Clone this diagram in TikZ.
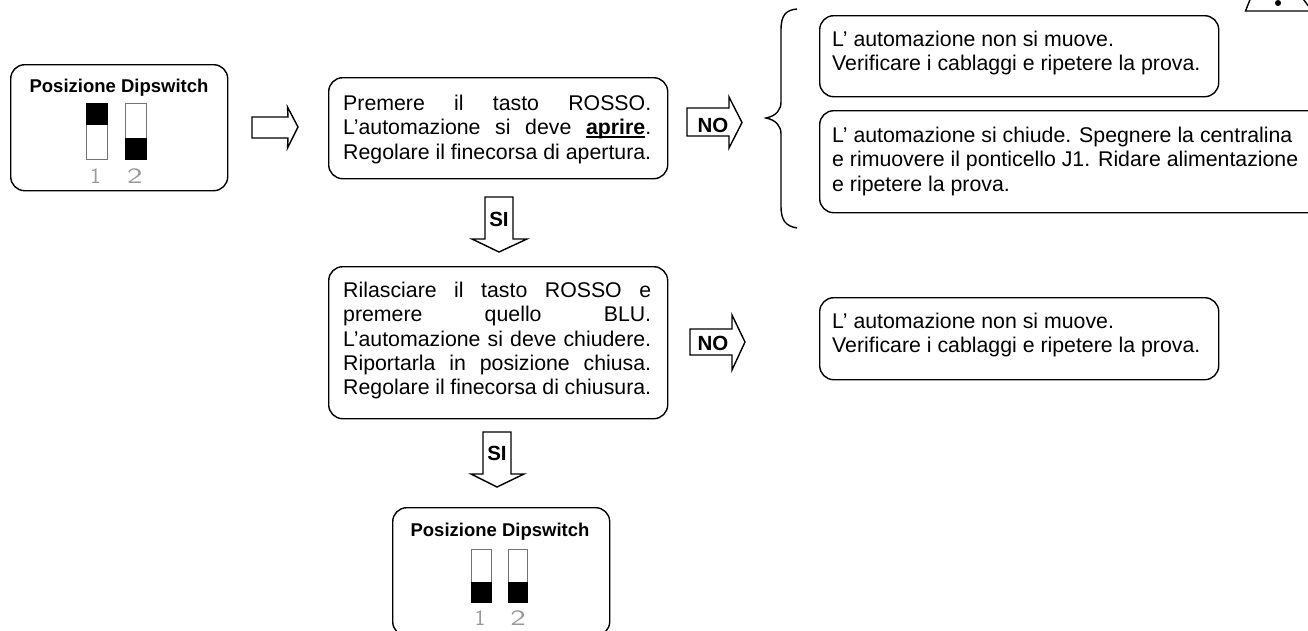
\documentclass[tikz,border=0pt]{standalone}
\usepackage{fontspec}
\setmainfont{Liberation Sans}
\setsansfont{Liberation Sans}
\newfontfamily\digitfont{Latin Modern Sans}
\newcommand{\jline}[1]{\hbox to 308pt{#1}}
\newcommand{\hf}{\hfill}
\newcommand{\lowul}[1]{\leavevmode\setbox0\hbox{#1}\rlap{\rule[-2.8pt]{\wd0}{1.4pt}}\box0}
\tikzset{
  x=1pt,y=-1pt,
  roundbox/.style={draw=black,line width=1.4pt,rounded corners=14pt,fill=white,inner sep=0pt,anchor=north west},
  msg/.style={anchor=north west,inner sep=0pt,align=left,font=\fontsize{21.3}{24.2}\selectfont},
  dipt/.style={inner sep=0pt,font=\bfseries\fontsize{18.5}{20}\selectfont},
  blk/.style={draw=black,line width=1.4pt,fill=white,line join=miter},
  arrlabel/.style={inner sep=0pt,font=\bfseries\fontsize{20.5}{22}\selectfont},
  swbody/.style={draw=black!55,line width=1pt,fill=white},
  swfill/.style={fill=black,draw=black},
  digit/.style={inner sep=0pt,text=black!40,font=\digitfont\fontsize{22}{22}\selectfont},
}
\begin{document}
\begin{tikzpicture}
\useasboundingbox (0,0) rectangle (1308,630);
\clip (0,0) rectangle (1308,630);
% triangle
\draw[line width=1.4pt,line join=miter] (1253,-8) -- (1245.5,11) -- (1312,11) -- (1298,-8);
\fill (1278,3) circle (3);
% box 1
\node[roundbox,minimum width=217pt,minimum height=126pt] (b1) at (10,64) {};
\node[dipt] (t1) at (119,88) {Posizione Dipswitch};
\draw[swbody] (86,103.5) rectangle (107,159);
\draw[swfill] (86,103.5) rectangle (107,124);
\draw[swbody] (125.5,103.5) rectangle (146,159);
\draw[swfill] (125.5,138) rectangle (146,159);
\node[digit] (d1) at (95.5,176) {1};
\node[digit,xscale=1.5] (d2) at (135,176) {2};
% arrow 1
\draw[blk] (252,117) -- (288,117) -- (287.5,107) -- (298,127) -- (287.5,148) -- (288,138) -- (252,138) -- cycle;
% box 2
\node[roundbox,minimum width=339pt,minimum height=101pt] (b2) at (328,77) {};
\node[msg] (t2) at (343,95) {\jline{Premere\hf il\hf tasto\hf ROSSO.}\\\jline{L'automazione\hf si\hf deve\hf \lowul{\textbf{aprire}}.}\\\jline{Regolare il finecorsa di apertura.}};
% NO 1
\draw[blk] (687,108) -- (729,108) -- (729,97) -- (742,122.5) -- (729,148) -- (729,136) -- (687,136) -- cycle;
\node[arrlabel] (n1) at (713,125) {NO};
% brace
\draw[line width=1.4pt] (797,9) .. controls (786,10) and (781,15) .. (781,30) -- (781,102) .. controls (781,110) and (776,116) .. (766,118) .. controls (776,120) and (781,126) .. (781,134) -- (781,206) .. controls (781,221) and (786,226) .. (797,228);
% box 4
\node[roundbox,minimum width=399pt,minimum height=81pt] (b4) at (819,15) {};
\node[msg] (t4) at (832,31) {L' automazione non si muove.\\Verificare i cablaggi e ripetere la prova.};
% box 5
\node[roundbox,minimum width=520pt,minimum height=102pt] (b5) at (819,110) {};
\node[msg] (t5) at (832,127) {L' automazione si chiude. Spegnere la centralina\\e rimuovere il ponticello J1. Ridare alimentazione\\e ripetere la prova.};
% SI 1
\draw[blk] (485,197) -- (513,197) -- (513,239) -- (527,239) -- (499,252) -- (472,239) -- (485,239) -- cycle;
\node[arrlabel] (s1) at (499,219) {SI};
% box 3
\node[roundbox,minimum width=339pt,minimum height=152pt] (b3) at (328,266) {};
\node[msg] (t3) at (343,282) {\jline{Rilasciare\hf il\hf tasto\hf ROSSO\hf e}\\\jline{premere\hf quello\hf BLU.}\\\jline{L'automazione si deve chiudere.}\\\jline{Riportarla\hf in\hf posizione\hf chiusa.}\\\jline{Regolare il finecorsa di chiusura.}};
% NO 2
\draw[blk] (690,329) -- (732,329) -- (732,315) -- (745,342) -- (732,370) -- (732,355) -- (690,355) -- cycle;
\node[arrlabel] (n2) at (713,343) {NO};
% box 6
\node[roundbox,minimum width=399pt,minimum height=82pt] (b6) at (819,297) {};
\node[msg] (t6) at (832,313) {L' automazione non si muove.\\Verificare i cablaggi e ripetere la prova.};
% SI 2
\draw[blk] (483,432) -- (511,432) -- (511,474) -- (524,474) -- (497,487) -- (471,474) -- (483,474) -- cycle;
\node[arrlabel] (s2) at (497,453) {SI};
% box 7
\node[roundbox,minimum width=217pt,minimum height=128pt] (b7) at (392,507) {};
\node[dipt] (t7) at (500,532) {Posizione Dipswitch};
\draw[swbody] (471,549) rectangle (491,602);
\draw[swfill] (471,582) rectangle (491,602);
\draw[swbody] (508,549) rectangle (527.5,602);
\draw[swfill] (508,582.5) rectangle (527.5,602);
\node[digit] (d3) at (480,618) {1};
\node[digit,xscale=1.5] (d4) at (518,618) {2};
\end{tikzpicture}
\end{document}
